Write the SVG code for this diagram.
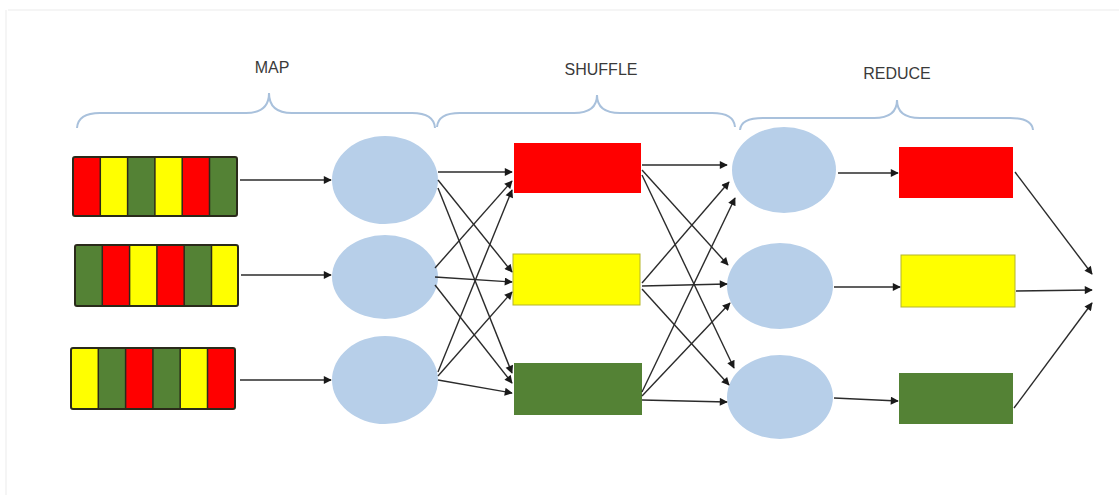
<svg xmlns="http://www.w3.org/2000/svg" width="1119" height="495" viewBox="0 0 1119 495">
<defs>
<marker id="ah" viewBox="0 0 10 10" refX="9" refY="5" markerWidth="9" markerHeight="8" markerUnits="userSpaceOnUse" orient="auto">
<path d="M0,0 L10,5 L0,10 z" fill="#1a1a1a"/>
</marker>
<style>
.lbl{font-family:"Liberation Sans",Arial,sans-serif;font-size:16px;fill:#3a3a3a;text-anchor:middle}
.brace{fill:none;stroke:#a9c1dc;stroke-width:2}
.ell{fill:#b7cfe9}
.r{fill:#ff0000}.y{fill:#ffff00}.g{fill:#548235}
.bar{fill:none;stroke:#2a2a1a;stroke-width:2}
.sep{stroke:#2a2a1a;stroke-width:1.5}
.c{fill:none;stroke:#2b2b2b;stroke-width:1.4;marker-end:url(#ah)}
</style>
</defs>
<rect width="1119" height="495" fill="#ffffff"/>
<line x1="8" y1="10" x2="1119" y2="10" stroke="#f2f2f2" stroke-width="1.5"/>
<line x1="6" y1="10" x2="6" y2="495" stroke="#f2f2f2" stroke-width="1.5"/>

<g id="labels">
<text class="lbl" x="272" y="73">MAP</text>
<text class="lbl" x="601" y="75">SHUFFLE</text>
<text class="lbl" x="897" y="79">REDUCE</text>
</g>
<g id="braces">
<path class="brace" d="M77,128 Q78,113 100,113 L246,113 Q269,113 269,93 Q269,113 292,113 L412,113 Q434,113 435,128"/>
<path class="brace" d="M437,127 Q438,113 460,113 L574,113 Q597,113 597,95 Q597,113 620,113 L712,113 Q734,113 735,127"/>
<path class="brace" d="M740,130 Q741,118 763,118 L874,118 Q897,118 897,100 Q897,118 920,118 L1010,118 Q1032,118 1033,130"/>
</g>

<g id="input1">
<rect class="r" x="73" y="157" width="27.3" height="59"/>
<rect class="y" x="100.3" y="157" width="27.3" height="59"/>
<rect class="g" x="127.6" y="157" width="27.3" height="59"/>
<rect class="y" x="154.9" y="157" width="27.3" height="59"/>
<rect class="r" x="182.2" y="157" width="27.3" height="59"/>
<rect class="g" x="209.5" y="157" width="27.5" height="59"/>
<path class="sep" d="M100.3,157V216M127.6,157V216M154.9,157V216M182.2,157V216M209.5,157V216"/>
<rect class="bar" x="73" y="157" width="164" height="59" rx="2"/>
</g>
<g id="input2">
<rect class="g" x="75" y="245" width="27.3" height="61"/>
<rect class="r" x="102.3" y="245" width="27.3" height="61"/>
<rect class="y" x="129.6" y="245" width="27.3" height="61"/>
<rect class="r" x="156.9" y="245" width="27.3" height="61"/>
<rect class="g" x="184.2" y="245" width="27.3" height="61"/>
<rect class="y" x="211.5" y="245" width="26.5" height="61"/>
<path class="sep" d="M102.3,245V306M129.6,245V306M156.9,245V306M184.2,245V306M211.5,245V306"/>
<rect class="bar" x="75" y="245" width="163" height="61" rx="2"/>
</g>
<g id="input3">
<rect class="y" x="71" y="348" width="27.3" height="61"/>
<rect class="g" x="98.3" y="348" width="27.3" height="61"/>
<rect class="r" x="125.6" y="348" width="27.3" height="61"/>
<rect class="g" x="152.9" y="348" width="27.3" height="61"/>
<rect class="y" x="180.2" y="348" width="27.3" height="61"/>
<rect class="r" x="207.5" y="348" width="27.5" height="61"/>
<path class="sep" d="M98.3,348V409M125.6,348V409M152.9,348V409M180.2,348V409M207.5,348V409"/>
<rect class="bar" x="71" y="348" width="164" height="61" rx="2"/>
</g>

<g id="map1"><ellipse class="ell" cx="385" cy="180" rx="53" ry="44"/></g>
<g id="map2"><ellipse class="ell" cx="385" cy="277" rx="53" ry="42"/></g>
<g id="map3"><ellipse class="ell" cx="385" cy="380" rx="53" ry="44"/></g>

<g id="shuffleRed"><rect class="r" x="514" y="143" width="127" height="50"/></g>
<g id="shuffleYellow"><rect class="y" x="513" y="254" width="127" height="51" stroke="#b5b52a" stroke-width="1"/></g>
<g id="shuffleGreen"><rect class="g" x="514" y="363" width="128" height="52"/></g>

<g id="reduce1"><ellipse class="ell" cx="784" cy="170" rx="52" ry="43"/></g>
<g id="reduce2"><ellipse class="ell" cx="780" cy="286" rx="53" ry="43"/></g>
<g id="reduce3"><ellipse class="ell" cx="780" cy="397" rx="53" ry="42"/></g>

<g id="outRed"><rect class="r" x="899" y="147" width="114" height="51"/></g>
<g id="outYellow"><rect class="y" x="901" y="255" width="114" height="52" stroke="#b5b52a" stroke-width="1"/></g>
<g id="outGreen"><rect class="g" x="899" y="373" width="114" height="51"/></g>

<g id="connectors">
<line class="c" x1="240" y1="180" x2="331" y2="180"/>
<line class="c" x1="241" y1="275" x2="331" y2="275"/>
<line class="c" x1="240" y1="380" x2="331" y2="380"/>

<line class="c" x1="438" y1="172" x2="512" y2="172"/>
<line class="c" x1="438" y1="180" x2="512" y2="272"/>
<line class="c" x1="438" y1="188" x2="512" y2="373"/>
<line class="c" x1="435" y1="268" x2="512" y2="181"/>
<line class="c" x1="435" y1="277" x2="512" y2="282"/>
<line class="c" x1="435" y1="285" x2="512" y2="383"/>
<line class="c" x1="438" y1="372" x2="512" y2="190"/>
<line class="c" x1="438" y1="376" x2="512" y2="292"/>
<line class="c" x1="438" y1="380" x2="512" y2="393"/>

<line class="c" x1="642" y1="165" x2="727" y2="165"/>
<line class="c" x1="642" y1="170" x2="728" y2="265"/>
<line class="c" x1="642" y1="175" x2="734" y2="368"/>
<line class="c" x1="642" y1="283" x2="729" y2="182"/>
<line class="c" x1="642" y1="286" x2="727" y2="284"/>
<line class="c" x1="642" y1="289" x2="729" y2="385"/>
<line class="c" x1="642" y1="392" x2="735" y2="198"/>
<line class="c" x1="642" y1="396" x2="730" y2="303"/>
<line class="c" x1="642" y1="400" x2="727" y2="402"/>

<line class="c" x1="838" y1="173" x2="898" y2="173"/>
<line class="c" x1="834" y1="287" x2="900" y2="287"/>
<line class="c" x1="834" y1="398" x2="898" y2="401"/>

<line class="c" x1="1015" y1="172" x2="1092" y2="274"/>
<line class="c" x1="1016" y1="291" x2="1092" y2="290"/>
<line class="c" x1="1014" y1="408" x2="1092" y2="303"/>
</g>
</svg>
